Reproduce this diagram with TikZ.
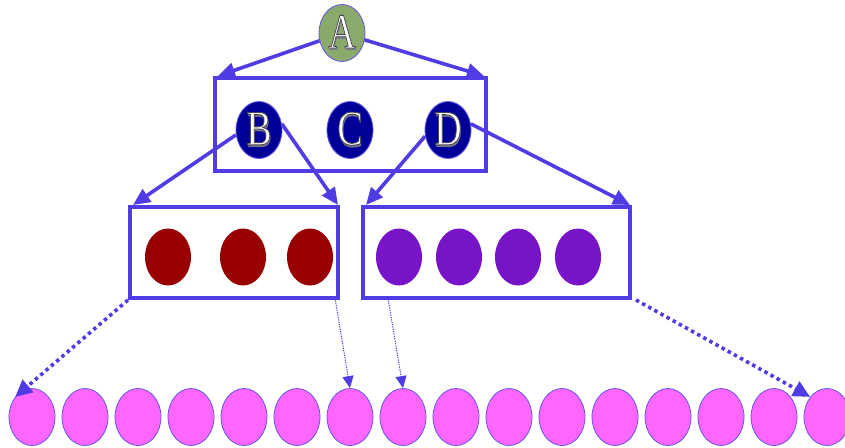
\documentclass[tikz,border=0pt]{standalone}
\usepackage{fontspec}
\setmainfont{Liberation Serif}
\usetikzlibrary{arrows.meta,shapes.geometric}
\definecolor{edge}{RGB}{80,60,228}
\definecolor{rim}{RGB}{100,84,232}
\definecolor{sage}{RGB}{138,170,108}
\definecolor{navy}{RGB}{0,0,153}
\definecolor{maroon}{RGB}{153,0,0}
\definecolor{violet}{RGB}{120,20,200}
\definecolor{rose}{RGB}{255,102,255}
\definecolor{shade}{RGB}{120,120,140}

% white letter, stroked with a thin dark rim, over a drop shadow
\newcommand\relieftext[1]{%
  \fontsize{38}{38}\selectfont
  \scalebox{1}[1.3]{%
    \makebox[0pt]{\hspace{2.4pt}\raisebox{-2pt}{\textcolor{shade}{#1}}}%
    \makebox[0pt]{\textcolor{white}{%
      \special{pdf:literal direct 0.27 0.27 0.31 RG 0.7 w 2 Tr}#1%
      \special{pdf:literal direct 0 Tr}}}}}

\tikzset{
  blob/.style={ellipse, inner sep=0pt, minimum width=46, minimum height=57,
               draw=rim, line width=0.8},
  letter/.style={blob, label={center:\relieftext{#1}}},
  frame/.style={rectangle, draw=edge, line width=4, inner sep=0pt},
  link/.style={draw=edge, line width=3.6, -{Triangle[length=17,width=15]}},
  dotlink/.style={draw=edge, line width=3.6, dash pattern=on 3.5 off 3.5,
                  -{Triangle[length=17,width=16]}},
  finelink/.style={draw=edge, line width=1, dash pattern=on 1.2 off 1.2,
                   -{Triangle[length=12,width=11]}},
}

\begin{document}
\begin{tikzpicture}[x=1pt,y=-1pt]
\useasboundingbox (0,0) rectangle (845,447);

% containers
\node[frame, minimum width=271, minimum height=93] (top) at (350.5,124.5) {};
\node[frame, minimum width=208, minimum height=91] (ml) at (234,252.5) {};
\node[frame, minimum width=267, minimum height=91] (mr) at (496.5,252.5) {};

% root and its children
\node[letter=A, fill=sage] (A) at (342,33) {};
\node[letter=B, fill=navy] (B) at (259,130) {};
\node[letter=C, fill=navy] (C) at (350,130) {};
\node[letter=D, fill=navy] (D) at (448,130) {};

% second level
\foreach \x [count=\i] in {168,243,310}
  \node[blob, fill=maroon, draw=none] (r\i) at (\x,257) {};
\foreach \x [count=\i] in {399,459,518,578}
  \node[blob, fill=violet, draw=none] (v\i) at (\x,257) {};

% bottom row
\foreach \i in {1,...,16}
  \node[blob, fill=rose] (p\i) at ({32+(\i-1)*53},417) {};

% solid links
\draw[link] (A) -- ([xshift=5]top.north west);
\draw[link] (A) -- ([xshift=-4]top.north east);
\draw[link] (B.192) -- ([xshift=5]ml.north west);
\draw[link] (B.15) -- ([xshift=-2]ml.north east);
\draw[link] (D.195) -- ([xshift=5]mr.north west);
\draw[link] (D.15) -- ([xshift=-2]mr.north east);

% dotted links to the bottom row
\draw[dotlink] (ml.south west) -- (p1.130);
\draw[dotlink] ([xshift=4]mr.south east) -- (p16.130);
\draw[finelink] ([xshift=-5,yshift=2]ml.south east) -- (p7.north);
\draw[finelink] ([xshift=27,yshift=2]mr.south west) -- (p8.north);
\end{tikzpicture}
\end{document}
